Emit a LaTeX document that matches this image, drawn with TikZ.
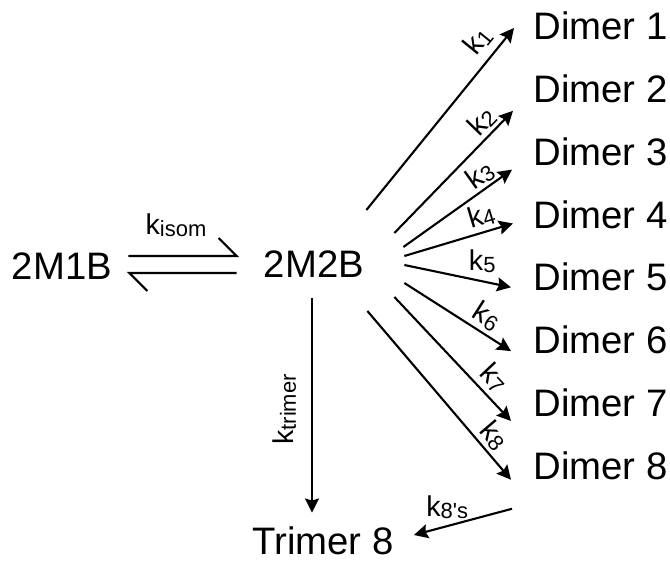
\documentclass[tikz,border=0pt]{standalone}
\usepackage{fontspec}
\setmainfont{Liberation Sans}
\usetikzlibrary{arrows.meta, positioning}

\newcommand{\krate}[1]{k\raisebox{-1.2pt}{\fontsize{12.5}{12.5}\selectfont #1}}

\begin{document}
\begin{tikzpicture}[
    x=0.02cm, y=-0.02cm,
    node distance=0.68cm,
    species/.style={
        inner sep=0pt,
        font=\fontsize{21.8}{26}\selectfont
    },
    rate/.style={inner sep=2pt, font=\fontsize{16.3}{19}\selectfont},
    line/.style={draw=black, -{Stealth[length=8pt, width=8pt, inset=1.2pt]}, line width=1.2pt},
    harpoon/.style={draw=black, line width=1.2pt}
]
    \useasboundingbox (0,0) rectangle (670,561);

    \node [species] (m1b) at (62,266) {2M1B};
    \node [species] (m2b) at (314,264) {2M2B};
    \node [species, anchor=west] (d1) at (533,26) {Dimer 1};
    \node [species, below=of d1] (d2) {Dimer 2};
    \node [species, below=of d2] (d3) {Dimer 3};
    \node [species, below=of d3] (d4) {Dimer 4};
    \node [species, below=of d4] (d5) {Dimer 5};
    \node [species, below=of d5] (d6) {Dimer 6};
    \node [species, below=of d6] (d7) {Dimer 7};
    \node [species, below=of d7] (d8) {Dimer 8};
    \node [species] (tri) at (323,541) {Trimer 8};

    % isomerisation equilibrium
    \coordinate (fwdA) at ([shift={(16,-10)}]m1b.east);
    \coordinate (fwdB) at ([shift={(-27,-8)}]m2b.west);
    \coordinate (revA) at ([shift={(-27,9)}]m2b.west);
    \coordinate (revB) at ([shift={(17,7)}]m1b.east);
    \path [harpoon] (fwdA) -- node [rate, pos=0.44, above, inner sep=10.5pt] {\krate{isom}} (fwdB) -- ++(-18,-18);
    \path [harpoon] (revA) -- (revB) -- ++(18,18);

    % dimerisation
    \coordinate (s1) at ([shift={(2,-54)}]m2b.east);
    \coordinate (s2) at ([shift={(30,-31)}]m2b.east);
    \coordinate (s3) at ([shift={(39,-17)}]m2b.east);
    \coordinate (s4) at ([shift={(40,-8)}]m2b.east);
    \coordinate (s5) at ([shift={(40,1)}]m2b.east);
    \coordinate (s6) at ([shift={(40,19)}]m2b.east);
    \coordinate (s7) at ([shift={(30,33)}]m2b.east);
    \coordinate (s8) at ([shift={(3,47)}]m2b.east);

    \path [line] (s1) -- node [rate, pos=0.86, sloped, above, inner sep=4.5pt] {\krate{1}} ([shift={(-19,2)}]d1.west);
    \path [line] (s2) -- node [rate, pos=0.83, sloped, above, inner sep=1.5pt] {\krate{2}} ([shift={(-20,22)}]d2.west);
    \path [line] (s3) -- node [rate, pos=0.78, sloped, above, inner sep=1pt] {\krate{3}} ([shift={(-21,18)}]d3.west);
    \path [line] (s4) -- node [rate, pos=0.75, sloped, above, inner sep=2.3pt] {\krate{4}} ([shift={(-20,9)}]d4.west);
    \path [line] (s5) -- node [rate, pos=0.73, above, inner sep=4.3pt] {\krate{5}} ([shift={(-22,10)}]d5.west);
    \path [line] (s6) -- node [rate, pos=0.69, sloped, above, inner sep=2.3pt] {\krate{6}} ([shift={(-22,11)}]d6.west);
    \path [line] (s7) -- node [rate, pos=0.75, sloped, above, inner sep=2.8pt] {\krate{7}} ([shift={(-22,18)}]d7.west);
    \path [line] (s8) -- node [rate, pos=0.80, sloped, above, inner sep=1.8pt] {\krate{8}} ([shift={(-22,14)}]d8.west);

    % trimerisation
    \coordinate (s9) at ([shift={(-2,20)}]m2b.south);
    \path [line] (s9) -- node [rate, pos=0.52, anchor=south, rotate=90, inner sep=8.5pt] {\krate{trimer}} ([yshift=8pt]s9 |- tri.north);
    \path [line] ([shift={(-21,43)}]d8.west) -- node [rate, pos=0.66, above, inner sep=3.5pt] {\krate{8\textquotesingle s}} ([shift={(20,-6)}]tri.east);
\end{tikzpicture}
\end{document}
